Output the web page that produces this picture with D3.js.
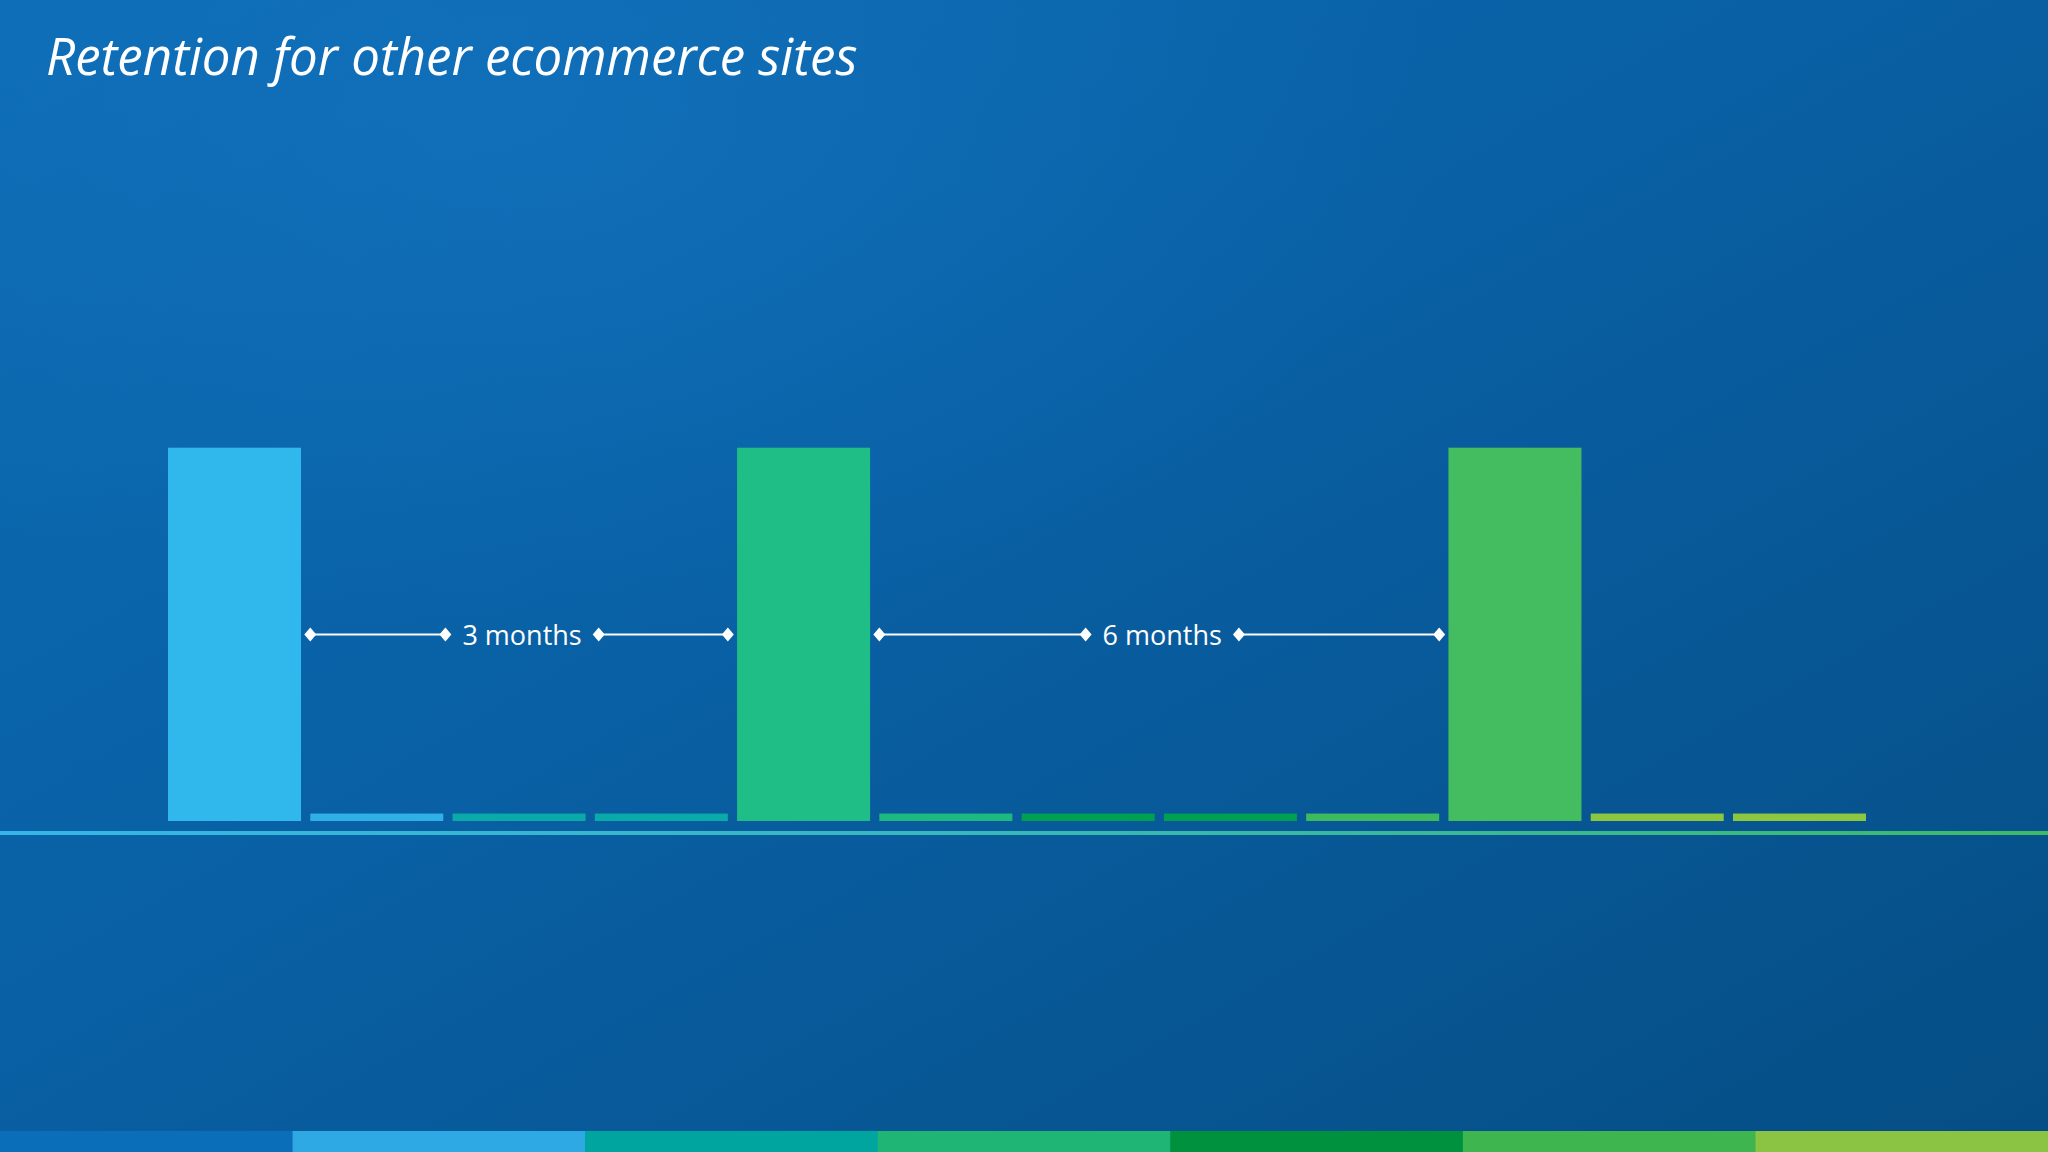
<!DOCTYPE html>
<html>
<head>
<meta charset="utf-8">
<script src="https://cdn.jsdelivr.net/npm/d3@7"></script>
<style>
  html, body { margin: 0; padding: 0; background: #0a5fa3; }
  svg { display: block; }
</style>
</head>
<body>
<svg id="chart" width="2048" height="1152"></svg>
<script>
// ---- data ----
const categories = ["M1","M2","M3","M4","M5","M6","M7","M8","M9","M10","M11","M12"];
const values = [100, 2, 2, 2, 100, 2, 2, 2, 2, 100, 2, 2];
const barColors = ["#30b8ec","#2fb0e6","#0aaaa9","#0aaaa9","#1fbe86","#1eb980","#00a052","#00a052","#3db95e","#44bc60","#8dc63f","#8dc63f"];
const intervalFrom = ["M2","M6"];
const intervalTo = ["M4","M9"];
const intervalLabels = ["3 months","6 months"];
const stripColors = ["#0a6fb8","#2ea9e4","#00a5a0","#1fb574","#00913f","#3fb550","#8bc342"];
const titleText = "Retention for other ecommerce sites";

const W = 2048, H = 1152;
const svg = d3.select("#chart");
const defs = svg.append("defs");

// background gradients
const bg = defs.append("linearGradient").attr("id","bg")
  .attr("x1","0").attr("y1","0").attr("x2","1").attr("y2","1");
bg.append("stop").attr("offset","0").attr("stop-color","#0c6cb4");
bg.append("stop").attr("offset","0.45").attr("stop-color","#0960a4");
bg.append("stop").attr("offset","1").attr("stop-color","#054d84");
const hl = defs.append("radialGradient").attr("id","hl")
  .attr("cx","0.25").attr("cy","0.1").attr("r","0.45");
hl.append("stop").attr("offset","0").attr("stop-color","#1575c2").attr("stop-opacity",0.55);
hl.append("stop").attr("offset","1").attr("stop-color","#1575c2").attr("stop-opacity",0);

svg.append("rect").attr("width",W).attr("height",H).attr("fill","url(#bg)");
svg.append("rect").attr("width",W).attr("height",H).attr("fill","url(#hl)");

// scales
const x = d3.scaleBand().domain(categories).range([168, 1866]).paddingInner(0.065).paddingOuter(0);
const y = d3.scaleLinear().domain([0, 100]).range([821, 447.7]);

// bars
svg.append("g").selectAll("rect").data(categories).join("rect")
  .attr("x", d => x(d))
  .attr("y", (d,i) => y(values[i]))
  .attr("width", x.bandwidth())
  .attr("height", (d,i) => y(0) - y(values[i]))
  .attr("fill", (d,i) => barColors[i]);

// baseline
const bl = defs.append("linearGradient").attr("id","bl").attr("x1","0").attr("x2","1").attr("y1","0").attr("y2","0");
bl.append("stop").attr("offset","0").attr("stop-color","#35b6e8");
bl.append("stop").attr("offset","0.45").attr("stop-color","#36b8c0");
bl.append("stop").attr("offset","1").attr("stop-color","#3ebb66");
svg.append("rect").attr("x",0).attr("y",831).attr("width",W).attr("height",4).attr("fill","url(#bl)");

// intervals
const ay = 634.5;
const diamond = (cx) => `M${cx},${ay-7}L${cx+6},${ay}L${cx},${ay+7}L${cx-6},${ay}Z`;
const ann = svg.append("g");
intervalLabels.forEach((lab, i) => {
  const x0 = x(intervalFrom[i]);
  const x1 = x(intervalTo[i]) + x.bandwidth();
  const cx = (x0 + x1) / 2 + 3;
  const t = ann.append("text")
    .attr("x", cx).attr("y", ay + 10.5)
    .attr("text-anchor","middle")
    .attr("font-family","'Open Sans', sans-serif")
    .attr("font-size", 27)
    .attr("fill","#ffffff")
    .text(lab);
  const tw = t.node().getComputedTextLength();
  const gap = 17;
  const segs = [[x0, cx - tw/2 - gap], [cx + tw/2 + gap, x1]];
  segs.forEach(s => {
    ann.append("line").attr("x1", s[0]).attr("x2", s[1]).attr("y1", ay).attr("y2", ay)
      .attr("stroke","#ffffff").attr("stroke-width",2);
    ann.append("path").attr("d", diamond(s[0])).attr("fill","#ffffff");
    ann.append("path").attr("d", diamond(s[1])).attr("fill","#ffffff");
  });
});

// title
svg.append("text").attr("x", 46).attr("y", 75)
  .attr("font-family","'Open Sans', sans-serif")
  .attr("font-style","italic")
  .attr("font-size", 51)
  .attr("fill","#ffffff")
  .text(titleText);

// bottom strip
const sx = d3.scaleBand().domain(d3.range(stripColors.length)).range([0, W]);
svg.append("g").selectAll("rect").data(stripColors).join("rect")
  .attr("x", (d,i) => sx(i)).attr("y", 1131)
  .attr("width", sx.bandwidth() + 0.5).attr("height", H - 1131)
  .attr("fill", d => d);
</script>
</body>
</html>
